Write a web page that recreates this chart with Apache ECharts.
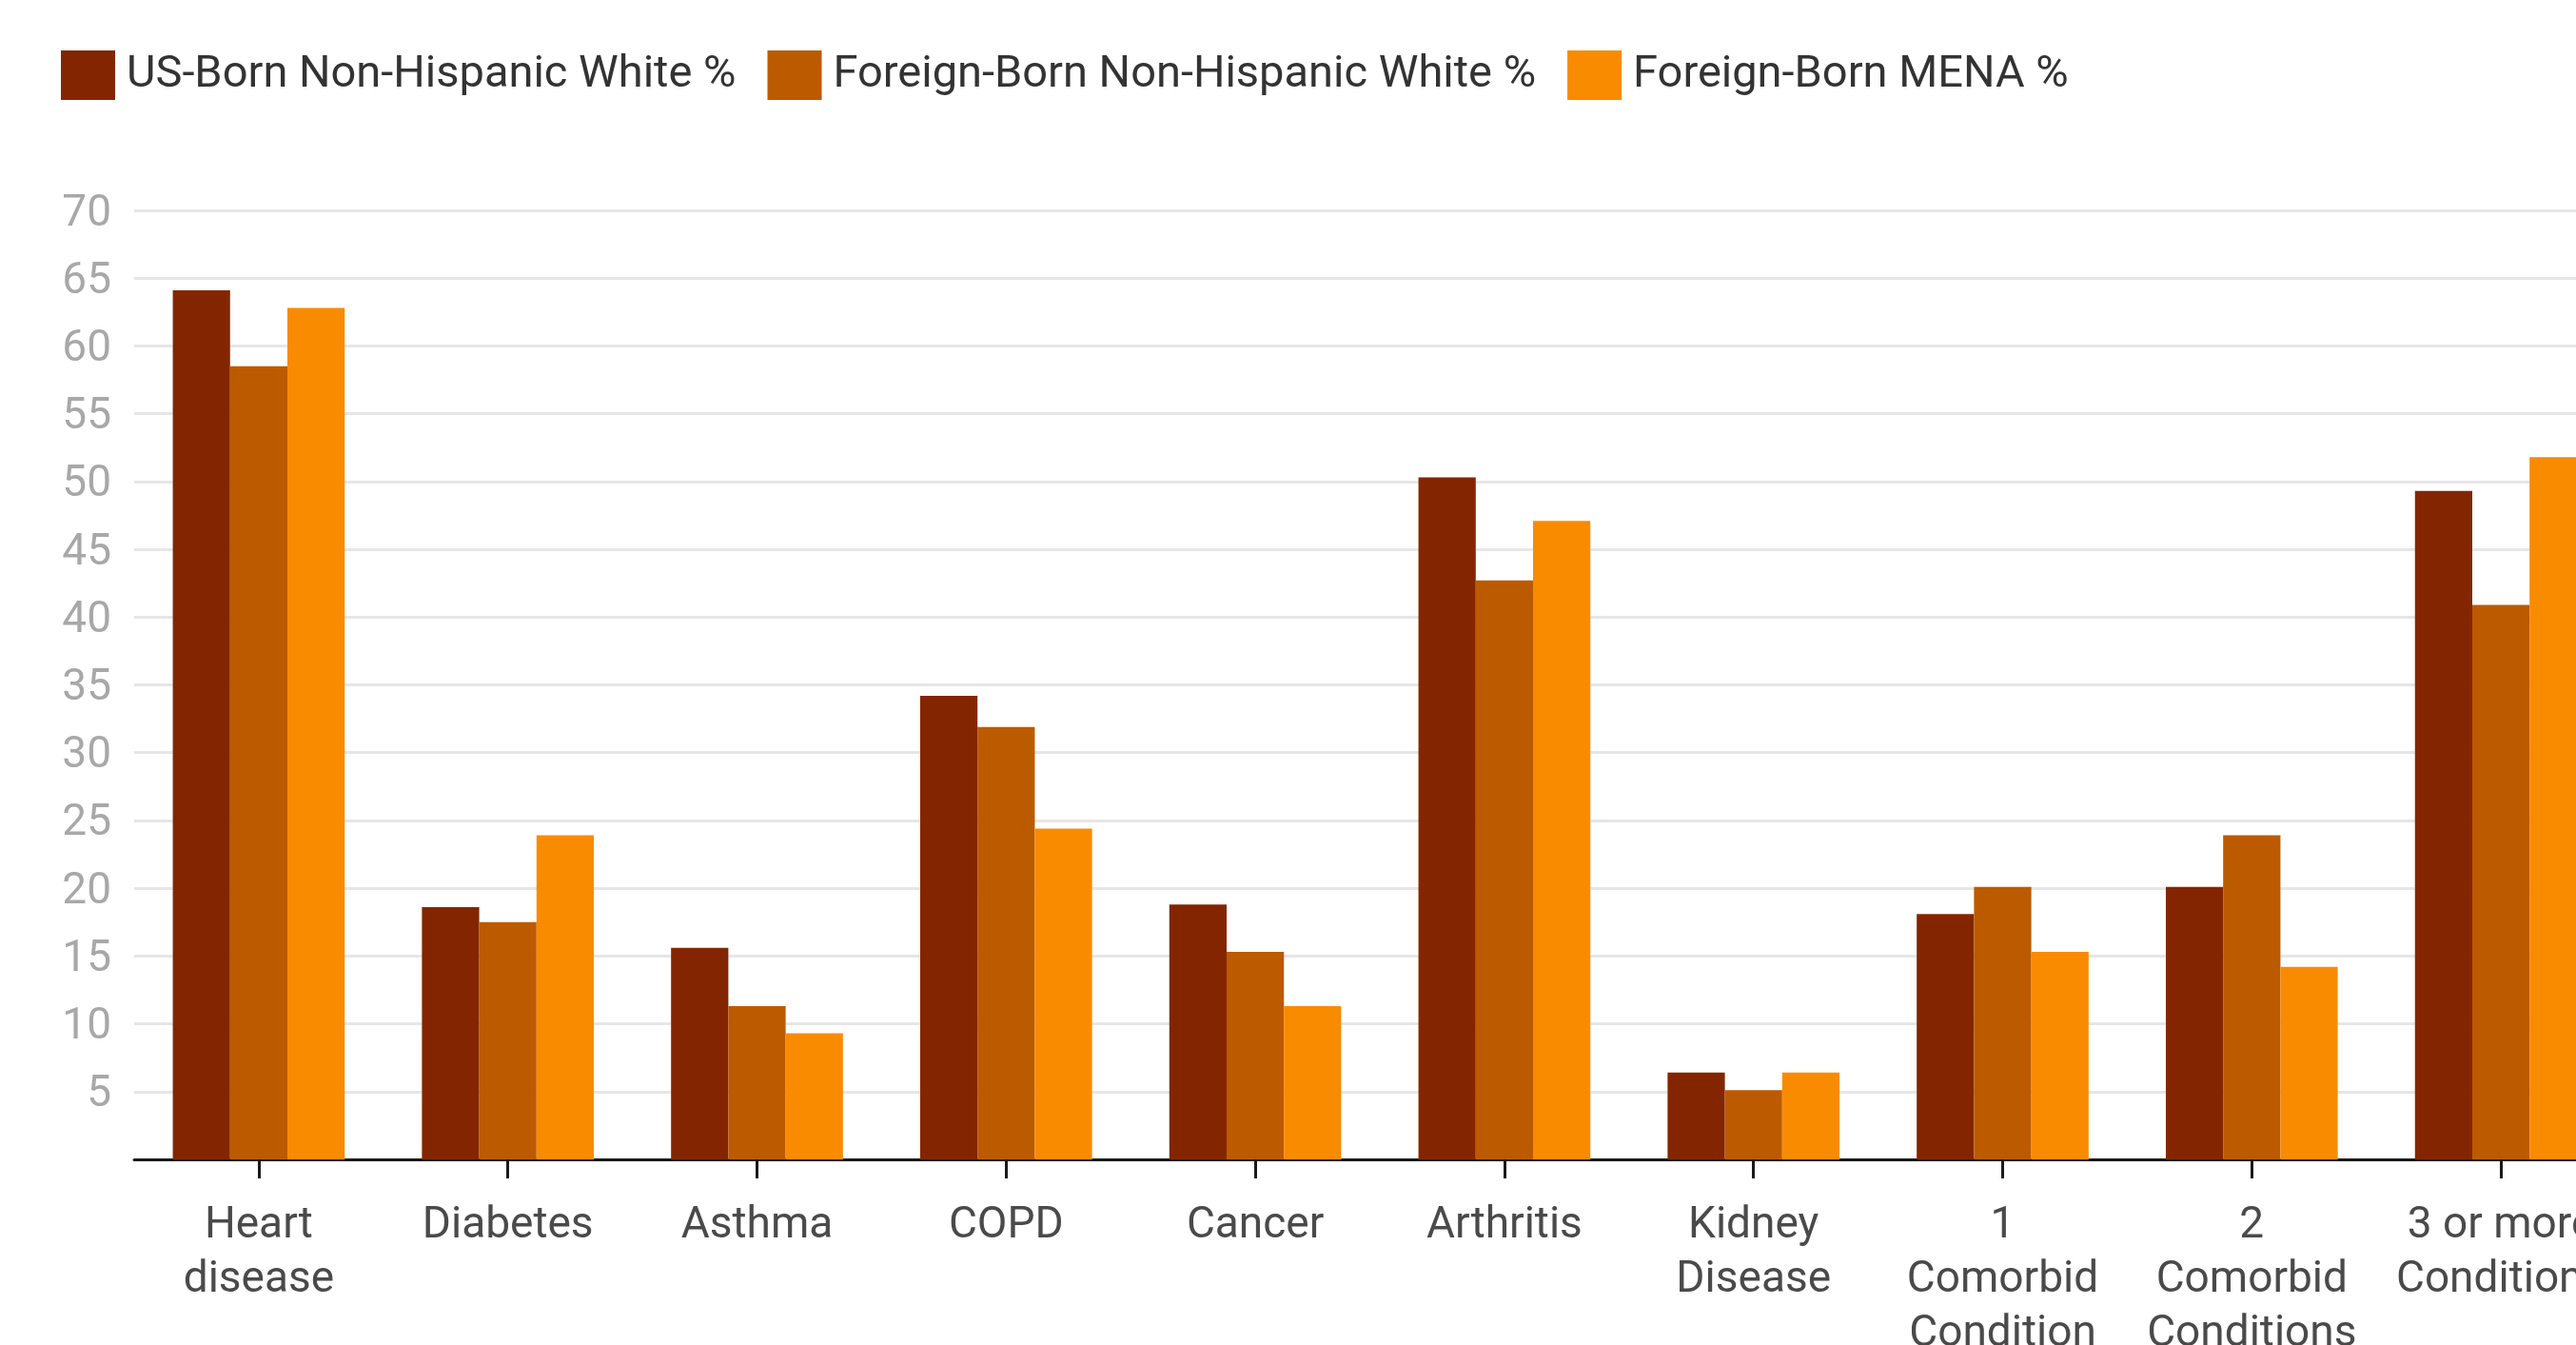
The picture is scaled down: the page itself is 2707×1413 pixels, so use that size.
<!DOCTYPE html>
<html>
<head>
<meta charset="utf-8">
<title>Chronic conditions by nativity</title>
<script src="https://cdn.jsdelivr.net/npm/echarts@6/dist/echarts.min.js"></script>
<style>
  html, body { margin: 0; padding: 0; background: #ffffff; }
  #chart { width: 2707px; height: 1413px; }
</style>
</head>
<body>
<div id="chart"></div>
<script>
// Conditions shown along the x axis (line breaks mark label wrapping)
const categories = [
  'Heart\ndisease', 'Diabetes', 'Asthma', 'COPD', 'Cancer', 'Arthritis',
  'Kidney\nDisease', '1\nComorbid\nCondition', '2\nComorbid\nConditions', '3 or more\nConditions'
];

const seriesNames = [
  'US-Born Non-Hispanic White %',
  'Foreign-Born Non-Hispanic White %',
  'Foreign-Born MENA %'
];

// Percentages per condition
const usBornWhite      = [64.1, 18.6, 15.6, 34.2, 18.8, 50.3, 6.4, 18.1, 20.1, 49.3];
const foreignBornWhite = [58.5, 17.5, 11.3, 31.9, 15.3, 42.7, 5.1, 20.1, 23.9, 40.9];
const foreignBornMena  = [62.8, 23.9,  9.3, 24.4, 11.3, 47.1, 6.4, 15.3, 14.2, 51.8];

const yMin = 0, yMax = 70, yStep = 5;

const colors = ['#832600', '#bc5a00', '#f98b00'];
const fontFamily = 'Roboto, "Noto Sans", sans-serif';

const chart = echarts.init(document.getElementById('chart'), null, { renderer: 'canvas' });

const values = [usBornWhite, foreignBornWhite, foreignBornMena];

chart.setOption({
  animation: false,
  color: colors,
  textStyle: { fontFamily: fontFamily },
  legend: {
    left: 64,
    top: 53,
    padding: 0,
    itemWidth: 57,
    itemHeight: 52,
    itemGap: 33,
    icon: 'rect',
    textStyle: {
      fontFamily: fontFamily,
      fontSize: 47,
      color: '#333333',
      padding: [0, 0, 0, 7]
    },
    data: seriesNames
  },
  // the plot runs past the right edge, so the last group is clipped
  grid: {
    left: 141,
    right: -52,
    top: 221,
    bottom: 195,
    containLabel: false,
    outerBoundsMode: 'none'
  },
  xAxis: {
    type: 'category',
    data: categories,
    boundaryGap: true,
    axisLine: { show: true, lineStyle: { color: '#1a1a1a', width: 3 } },
    axisTick: { show: true, alignWithLabel: true, length: 20, lineStyle: { color: '#1a1a1a', width: 3 } },
    axisLabel: {
      interval: 0,
      hideOverlap: false,
      margin: 42,
      fontFamily: fontFamily,
      fontSize: 46,
      lineHeight: 57,
      color: '#4a4a4a',
      align: 'center'
    },
    splitLine: { show: false }
  },
  yAxis: {
    type: 'value',
    min: yMin,
    max: yMax,
    interval: yStep,
    axisLine: { show: false },
    axisTick: { show: false },
    axisLabel: {
      showMinLabel: false,
      margin: 24,
      formatter: (v) => '{t|' + v + '}',
      rich: {
        t: {
          fontFamily: fontFamily,
          fontSize: 46,
          color: '#a8a8a8',
          padding: [8, 0, 0, 0]
        }
      }
    },
    splitLine: { show: true, lineStyle: { color: '#e6e6e6', width: 3 } }
  },
  series: seriesNames.map((name, i) => ({
    name: name,
    type: 'bar',
    data: values[i],
    barGap: '0%',
    barCategoryGap: '31%',
    itemStyle: { color: colors[i] }
  }))
});
</script>
</body>
</html>
